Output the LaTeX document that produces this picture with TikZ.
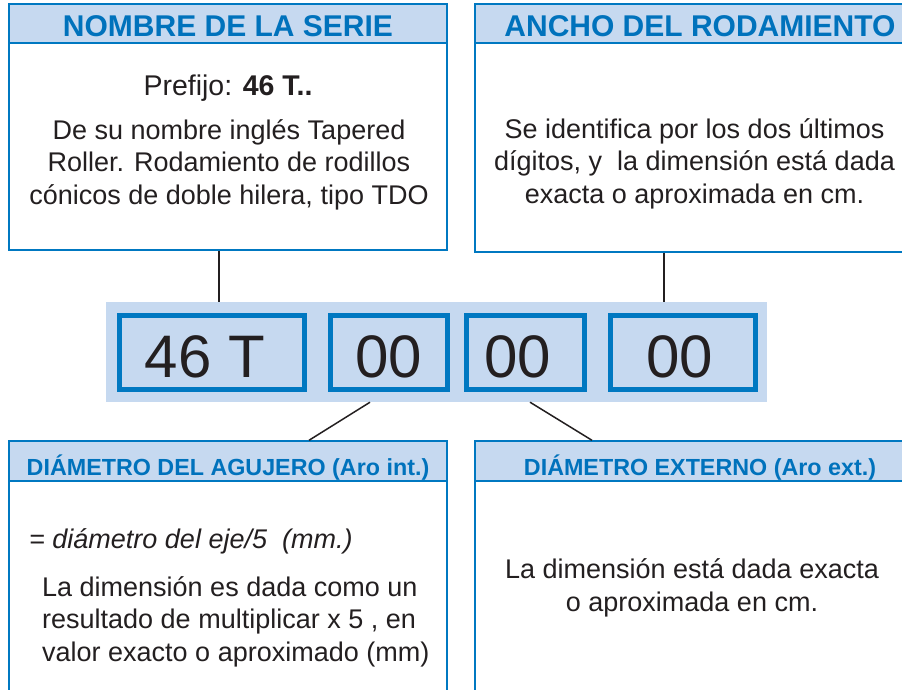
\documentclass[tikz,border=0pt]{standalone}
\usepackage{fontspec}
\setmainfont{Liberation Sans}
\definecolor{azulclaro}{RGB}{198,217,240}
\definecolor{azulborde}{RGB}{0,120,193}
\definecolor{azultexto}{RGB}{0,114,188}
\definecolor{grisoscuro}{RGB}{35,31,32}
\begin{document}
\begin{tikzpicture}[x=1pt,y=-1pt,
		caja/.style={draw=azulborde, fill=white, line width=1.4pt, inner sep=0pt},
		cabecera/.style={draw=azulborde, fill=azulclaro, line width=1.4pt, inner sep=0pt, text=azultexto, text depth=0pt},
		texto/.style={font=\fontsize{27}{32.5}\selectfont, text=grisoscuro, inner sep=0pt},
		digito/.style={draw=azulborde, line width=4.7pt, inner sep=0pt, minimum height=74pt, text=grisoscuro, font=\fontsize{60}{60}\selectfont, text height=49pt, text depth=0pt},
		conector/.style={line width=1.5pt, grisoscuro}]
	\useasboundingbox (0,0) rectangle (902,689);
	%--
	\node[caja, minimum width=438pt, minimum height=246pt] (serie) at (228,127) {};
	\node[cabecera, anchor=north, minimum width=438pt, minimum height=39pt, text height=25pt, font=\fontsize{30}{30}\selectfont\bfseries] (tserie) at (serie.north) {NOMBRE DE LA SERIE};
	\node[texto, anchor=base, font=\fontsize{28.5}{32.5}\selectfont] (prefijo) at (228,95) {Prefijo: \textbf{46 T..}};
	\node[texto, anchor=base, align=center] (dserie) at (229,204) {De su nombre inglés Tapered\\Roller. Rodamiento de rodillos\\cónicos de doble hilera, tipo TDO};
	%--
	\node[caja, minimum width=450pt, minimum height=248pt] (ancho) at (700,128) {};
	\node[cabecera, anchor=north, minimum width=450pt, minimum height=39pt, text height=25pt, font=\fontsize{30}{30}\selectfont\bfseries] (tancho) at (ancho.north) {ANCHO DEL RODAMIENTO};
	\node[texto, anchor=base, align=center] (dancho) at (694.5,203) {Se identifica por los dos últimos\\dígitos, y\ \ la dimensión está dada\\exacta o aproximada en cm.};
	%--
	\node[fill=azulclaro, minimum width=661pt, minimum height=100pt, inner sep=0pt] (banda) at (436.5,352) {};
	\node[digito, minimum width=185.3pt] (prefijobox) at (212,352.5) {46 T\hspace*{14pt}};
	\node[digito, minimum width=117.3pt] (agujerobox) at (389,352.5) {00};
	\node[digito, minimum width=118.3pt] (externobox) at (525.5,352.5) {00\hspace*{15pt}};
	\node[digito, minimum width=145.3pt] (anchobox) at (683,352.5) {00\hspace*{6pt}};
	%--
	\node[caja, minimum width=438pt, minimum height=260pt] (agujero) at (228,571) {};
	\node[cabecera, anchor=north, minimum width=438pt, minimum height=40pt, text height=28pt, font=\fontsize{23.3}{23.3}\selectfont\bfseries] (tagujero) at (agujero.north) {DIÁMETRO DEL AGUJERO (Aro int.)};
	\node[texto, anchor=base west] (formula) at (29,548) {\itshape = diámetro del eje/5\ \ (mm.)};
	\node[texto, anchor=base west, align=left] (dagujero) at (42,661) {La dimensión es dada como un\\resultado de multiplicar x 5 , en\\valor exacto o aproximado (mm)};
	%--
	\node[caja, minimum width=450pt, minimum height=260pt] (externo) at (700,571) {};
	\node[cabecera, anchor=north, minimum width=450pt, minimum height=40pt, text height=28pt, font=\fontsize{23.3}{23.3}\selectfont\bfseries] (texterno) at (externo.north) {DIÁMETRO EXTERNO (Aro ext.)};
	\node[texto, anchor=base, align=center] (dexterno) at (692,611) {La dimensión está dada exacta\\o aproximada en cm.};
	%--
	\draw[conector] ([xshift=-9pt]serie.south) -- ([xshift=-9pt]serie.south |- banda.north);
	\draw[conector] ([xshift=-36pt]ancho.south) -- ([xshift=-36pt]ancho.south |- banda.north);
	\draw[conector] ([xshift=-66.5pt]banda.south) -- ([xshift=81pt]agujero.north);
	\draw[conector] ([xshift=93.5pt]banda.south) -- ([xshift=-108pt]externo.north);
\end{tikzpicture}
\end{document}
